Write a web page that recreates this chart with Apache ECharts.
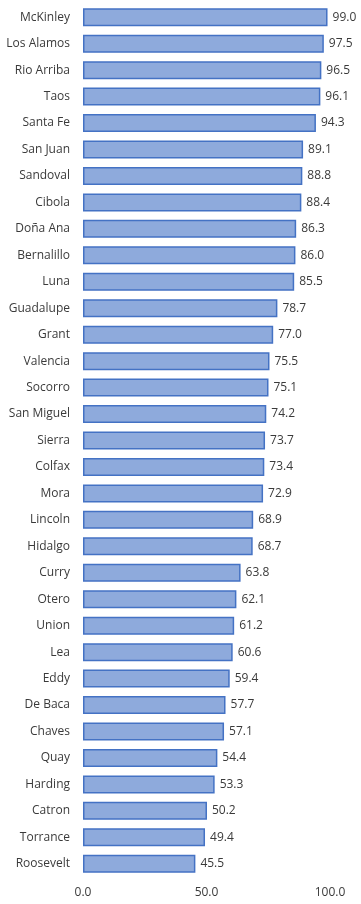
<!DOCTYPE html>
<html><head><meta charset="utf-8">
<script src="https://cdn.jsdelivr.net/npm/echarts@6/dist/echarts.min.js"></script>
<style>html,body{margin:0;padding:0;background:#fff}#c{width:361px;height:904px}</style>
</head><body><div id="c"></div>
<script>
const categories = ["McKinley","Los Alamos","Rio Arriba","Taos","Santa Fe","San Juan","Sandoval","Cibola","Doña Ana","Bernalillo","Luna","Guadalupe","Grant","Valencia","Socorro","San Miguel","Sierra","Colfax","Mora","Lincoln","Hidalgo","Curry","Otero","Union","Lea","Eddy","De Baca","Chaves","Quay","Harding","Catron","Torrance","Roosevelt"];
const values = [99.0,97.5,96.5,96.1,94.3,89.1,88.8,88.4,86.3,86.0,85.5,78.7,77.0,75.5,75.1,74.2,73.7,73.4,72.9,68.9,68.7,63.8,62.1,61.2,60.6,59.4,57.7,57.1,54.4,53.3,50.2,49.4,45.5];
const xTicks = [0, 50, 100];
const chart = echarts.init(document.getElementById('c'), null, {renderer:'canvas'});
chart.setOption({
  animation:false,
  grid:{left:83,right:31,top:4,bottom:27,containLabel:false},
  xAxis:{type:'value',min:0,max:100,interval:50,
    axisLine:{show:false},axisTick:{show:false},splitLine:{show:false},
    axisLabel:{color:'#3a3a3a',fontFamily:'Open Sans',fontSize:12,margin:10,
      formatter:v=>xTicks.includes(v)?v.toFixed(1):''}},
  yAxis:{type:'category',data:categories,inverse:true,
    axisLine:{show:false},axisTick:{show:false},
    axisLabel:{color:'#3a3a3a',fontFamily:'Open Sans',fontSize:12,margin:13}},
  series:[{type:'bar',data:values,barCategoryGap:'32%',
    itemStyle:{color:'#8EAADC',borderColor:'#4472C4',borderWidth:1.5},
    label:{show:true,position:'right',distance:5,color:'#3a3a3a',fontFamily:'Open Sans',fontSize:12,
      formatter:p=>p.value.toFixed(1)}}]
});
</script></body></html>
